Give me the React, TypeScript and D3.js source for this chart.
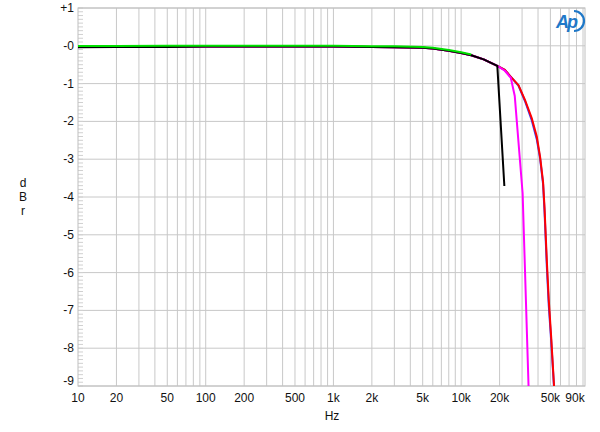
import React from "react";
import * as d3 from "d3";

const W = 600;
const H = 432;
const M = { left: 78, right: 585, top: 8, bottom: 386 };

const xTickValues = [10, 20, 50, 100, 200, 500, 1000, 2000, 5000, 10000, 20000, 50000, 90000];
const xTickLabels = ["10", "20", "50", "100", "200", "500", "1k", "2k", "5k", "10k", "20k", "50k", "90k"];
const yTickValues = [1, 0, -1, -2, -3, -4, -5, -6, -7, -8, -9];
const yTickLabels = ["+1", "-0", "-1", "-2", "-3", "-4", "-5", "-6", "-7", "-8", "-9"];

const greenFreq = [10, 20, 50, 100, 200, 500, 1000, 2000, 3000, 5000, 6000, 8000, 10000, 12000];
const greenDb = [-0.005, -0.005, 0, 0, 0, 0, 0, -0.01, -0.015, -0.03, -0.05, -0.11, -0.17, -0.23];

const blackFreq = [10, 20, 50, 100, 200, 500, 1000, 2000, 3000, 5000, 6000, 8000, 10000, 12000, 15000, 19200, 21800];
const blackDb = [-0.04, -0.03, -0.03, -0.02, -0.02, -0.02, -0.02, -0.03, -0.04, -0.05, -0.07, -0.13, -0.19, -0.25, -0.36, -0.53, -3.71];

const magentaFreq = [10, 20, 50, 100, 200, 500, 1000, 2000, 3000, 5000, 6000, 8000, 10000, 12000, 15000, 19200, 22000, 24500, 26300, 30300, 34000];
const magentaDb = [-0.03, -0.02, -0.02, -0.02, -0.02, -0.02, -0.02, -0.03, -0.04, -0.05, -0.07, -0.13, -0.19, -0.25, -0.36, -0.53, -0.66, -0.85, -1.33, -3.9, -9.4];

const redFreq = [10, 20, 50, 100, 200, 500, 1000, 2000, 3000, 5000, 6000, 8000, 10000, 12000, 15000, 19200, 22000, 24200, 28100, 31600, 35700, 39100, 41500, 43800, 45000, 46900, 48500, 50700, 53400, 54300];
const redDb = [-0.03, -0.03, -0.02, -0.02, -0.02, -0.02, -0.02, -0.03, -0.04, -0.05, -0.07, -0.13, -0.19, -0.25, -0.36, -0.53, -0.64, -0.8, -1.04, -1.43, -1.91, -2.4, -2.93, -3.6, -4.3, -5.7, -6.7, -7.7, -9.0, -9.6];

const blueFreq = [10, 20, 50, 100, 200, 500, 1000, 2000, 3000, 5000, 6000, 8000, 10000, 12000, 15000, 19200, 22000, 24200, 28100, 31600, 35700, 39100, 41500, 43800, 45000, 46900, 48500, 50700, 53400, 54300];
const blueDb = [-0.03, -0.03, -0.02, -0.02, -0.02, -0.02, -0.02, -0.03, -0.04, -0.05, -0.07, -0.13, -0.19, -0.25, -0.36, -0.53, -0.64, -0.8, -1.05, -1.46, -1.97, -2.47, -2.98, -3.65, -4.4, -5.85, -6.85, -7.8, -9.05, -9.6];

const series = [
  { name: "blue", freq: blueFreq, db: blueDb, color: "#3a3aff" },
  { name: "red", freq: redFreq, db: redDb, color: "#ff0000" },
  { name: "magenta", freq: magentaFreq, db: magentaDb, color: "#ff00ff" },
  { name: "black", freq: blackFreq, db: blackDb, color: "#000000" },
  { name: "green", freq: greenFreq, db: greenDb, color: "#00e000" },
];

export default function App() {
  const x = d3.scaleLog().domain([10, 93300]).range([M.left, M.right]);
  const y = d3.scaleLinear().domain([1, -9]).range([M.top, M.bottom]);

  const gridFreqs: number[] = [];
  for (let dec = 10; dec < 100000; dec *= 10) {
    for (let m = 1; m <= 9; m++) {
      const f = dec * m;
      if (f > 10 && f <= 93000) gridFreqs.push(f);
    }
  }
  const minorY: number[] = [];
  for (let i = 0; i <= 100; i++) minorY.push(1 - i / 10);

  const line = d3
    .line<[number, number]>()
    .x((d) => x(d[0]))
    .y((d) => y(d[1]))
    .curve(d3.curveLinear);

  const font = "Arial, 'Liberation Sans', Helvetica, sans-serif";

  return (
    <svg
      width={W}
      height={H}
      style={{ position: "fixed", left: 0, top: 0, background: "#fff" }}
      fontFamily={font}
    >
      <rect x={0} y={0} width={W} height={H} fill="#fff" />
      <defs>
        <clipPath id="plot">
          <rect x={M.left} y={M.top} width={M.right - M.left} height={M.bottom - M.top} />
        </clipPath>
      </defs>
      {gridFreqs.map((f) => (
        <line key={"vx" + f} x1={x(f)} x2={x(f)} y1={M.top} y2={M.bottom} stroke="#c8c8c8" strokeWidth={1} />
      ))}
      {yTickValues.map((v) => (
        <line key={"hy" + v} x1={M.left} x2={M.right} y1={y(v)} y2={y(v)} stroke="#c8c8c8" strokeWidth={1} />
      ))}
      {minorY.map((v, i) => (
        <line key={"my" + i} x1={M.left} x2={M.left + 5} y1={y(v)} y2={y(v)} stroke="#d0d0d0" strokeWidth={1} />
      ))}
      <rect
        x={M.left}
        y={M.top}
        width={M.right - M.left}
        height={M.bottom - M.top}
        fill="none"
        stroke="#c0c0c0"
        strokeWidth={1}
      />
      <g clipPath="url(#plot)">
        {series.map((s) => (
          <path
            key={s.name}
            d={line(s.freq.map((f, i) => [f, s.db[i]] as [number, number])) || ""}
            fill="none"
            stroke={s.color}
            strokeWidth={2}
            strokeLinejoin="round"
          />
        ))}
      </g>
      {yTickValues.map((v, i) => (
        <text
          key={"yl" + v}
          x={M.left - 4}
          y={y(v) + (v === -9 ? -1 : 4)}
          textAnchor="end"
          fontSize={12}
          fill="#111"
        >
          {yTickLabels[i]}
        </text>
      ))}
      {xTickValues.map((v, i) => (
        <text
          key={"xl" + v}
          x={Math.min(x(v), 575)}
          y={402}
          textAnchor="middle"
          fontSize={12}
          fill="#111"
        >
          {xTickLabels[i]}
        </text>
      ))}
      <text x={332} y={420} textAnchor="middle" fontSize={12} fill="#111">
        Hz
      </text>
      <text x={23} y={187} textAnchor="middle" fontSize={12} fill="#111">d</text>
      <text x={23} y={201} textAnchor="middle" fontSize={12} fill="#111">B</text>
      <text x={23} y={215} textAnchor="middle" fontSize={12} fill="#111">r</text>
      <g>
        <text
          x={556}
          y={28}
          fontSize={18}
          fontStyle="italic"
          fontWeight="bold"
          fill="#1f78c8"
          fontFamily={font}
          letterSpacing={-2}
        >
          Ap
        </text>
        <path d="M574,11 A10,10 0 0 1 574,31" fill="none" stroke="#1f78c8" strokeWidth={2.2} />
      </g>
    </svg>
  );
}
